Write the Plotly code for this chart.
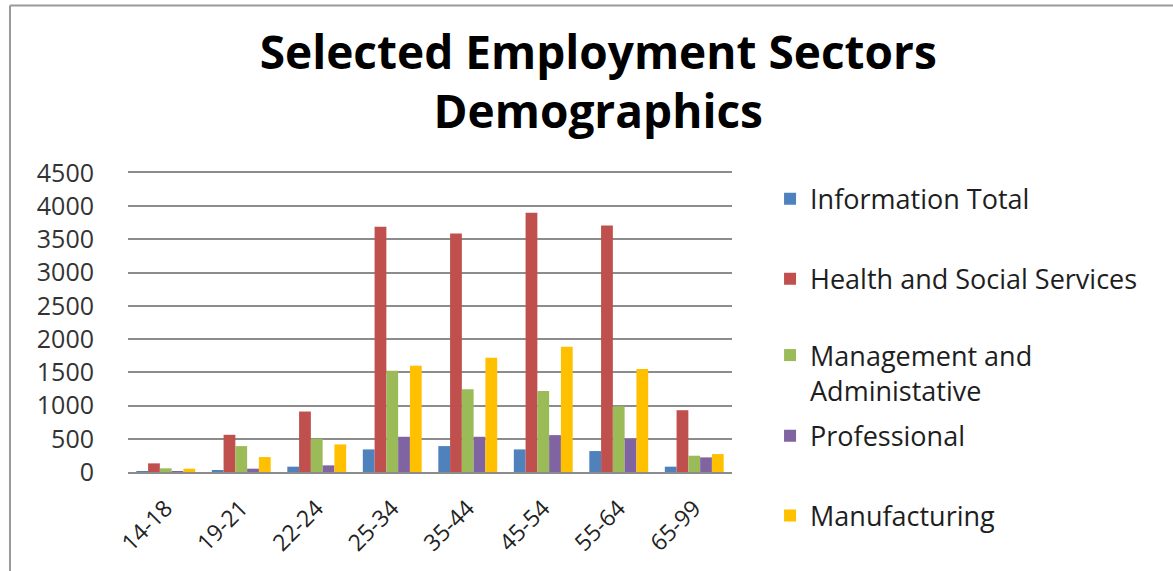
import plotly.graph_objects as go

# Age brackets and employment counts per sector
age_groups = ["14-18", "19-21", "22-24", "25-34", "35-44", "45-54", "55-64", "65-99"]

information_total = [5, 30, 80, 340, 390, 340, 315, 80]
health_social = [130, 560, 910, 3690, 3590, 3900, 3710, 930]
management_admin = [55, 390, 500, 1525, 1245, 1220, 990, 245]
professional = [5, 50, 100, 530, 530, 555, 500, 220]
manufacturing = [50, 225, 415, 1600, 1720, 1885, 1550, 270]

y_ticks = [0, 500, 1000, 1500, 2000, 2500, 3000, 3500, 4000, 4500]

series = [
    ("Information Total", information_total, "#4F81BD", "legend", 0.912, "middle"),
    ("Health and Social Services", health_social, "#C0504D", "legend2", 0.645, "middle"),
    ("Management and<br>Administative", management_admin, "#9BBB59", "legend3", 0.331, "top"),
    ("Professional", professional, "#8064A2", "legend4", 0.120, "middle"),
    ("Manufacturing", manufacturing, "#FFC000", "legend5", -0.147, "middle"),
]

FONT = "Open Sans"
legend_font = dict(family=FONT, size=27, color="#1e1e1e")

fig = go.Figure()
legend_layouts = {}
for name, values, color, leg, ly, valign in series:
    fig.add_trace(go.Bar(
        x=age_groups, y=values, name=name,
        marker=dict(color=color, line=dict(width=0)),
        legend=leg,
    ))
    legend_layouts[leg] = dict(
        x=1.063, xanchor="left", y=ly, yanchor="middle",
        valign=valign, font=legend_font, bgcolor="rgba(0,0,0,0)",
        borderwidth=0, itemclick=False, itemdoubleclick=False,
    )

fig.update_layout(
    width=1173, height=571,
    margin=dict(l=128, r=441, t=173, b=99),
    paper_bgcolor="white", plot_bgcolor="white",
    barmode="group", bargap=0.22, bargroupgap=0,
    title=dict(
        text="Selected Employment Sectors<br>Demographics",
        x=0.510, xanchor="center", y=0.880, yanchor="middle",
        font=dict(family=FONT, size=46, color="black", weight="bold"),
    ),
    showlegend=True,
    **legend_layouts,
)

fig.update_yaxes(
    range=[0, 4500], tickvals=y_ticks,
    showgrid=True, gridcolor="#8c8c8c", gridwidth=1.5,
    zeroline=False, showline=False,
    ticks="", ticklabelstandoff=33,
    tickfont=dict(family=FONT, size=25, color="#333333"),
)
fig.update_xaxes(
    showline=True, mirror=True, linecolor="#8c8c8c", linewidth=1.5,
    ticks="", tickangle=-45, ticklabelstandoff=12,
    tickfont=dict(family=FONT, size=23, color="#222222"),
)

# Outer frame of the chart (top and left edges)
fig.add_shape(type="line", xref="paper", yref="paper",
              x0=(10 - 128) / 604, x1=(1173 - 128) / 604,
              y0=(472 - 5) / 299.3, y1=(472 - 5) / 299.3,
              line=dict(color="#9a9a9a", width=2))
fig.add_shape(type="line", xref="paper", yref="paper",
              x0=(10 - 128) / 604, x1=(10 - 128) / 604,
              y0=(472 - 5) / 299.3, y1=(472 - 575) / 299.3,
              line=dict(color="#9a9a9a", width=2))

fig.write_html("out.html")
